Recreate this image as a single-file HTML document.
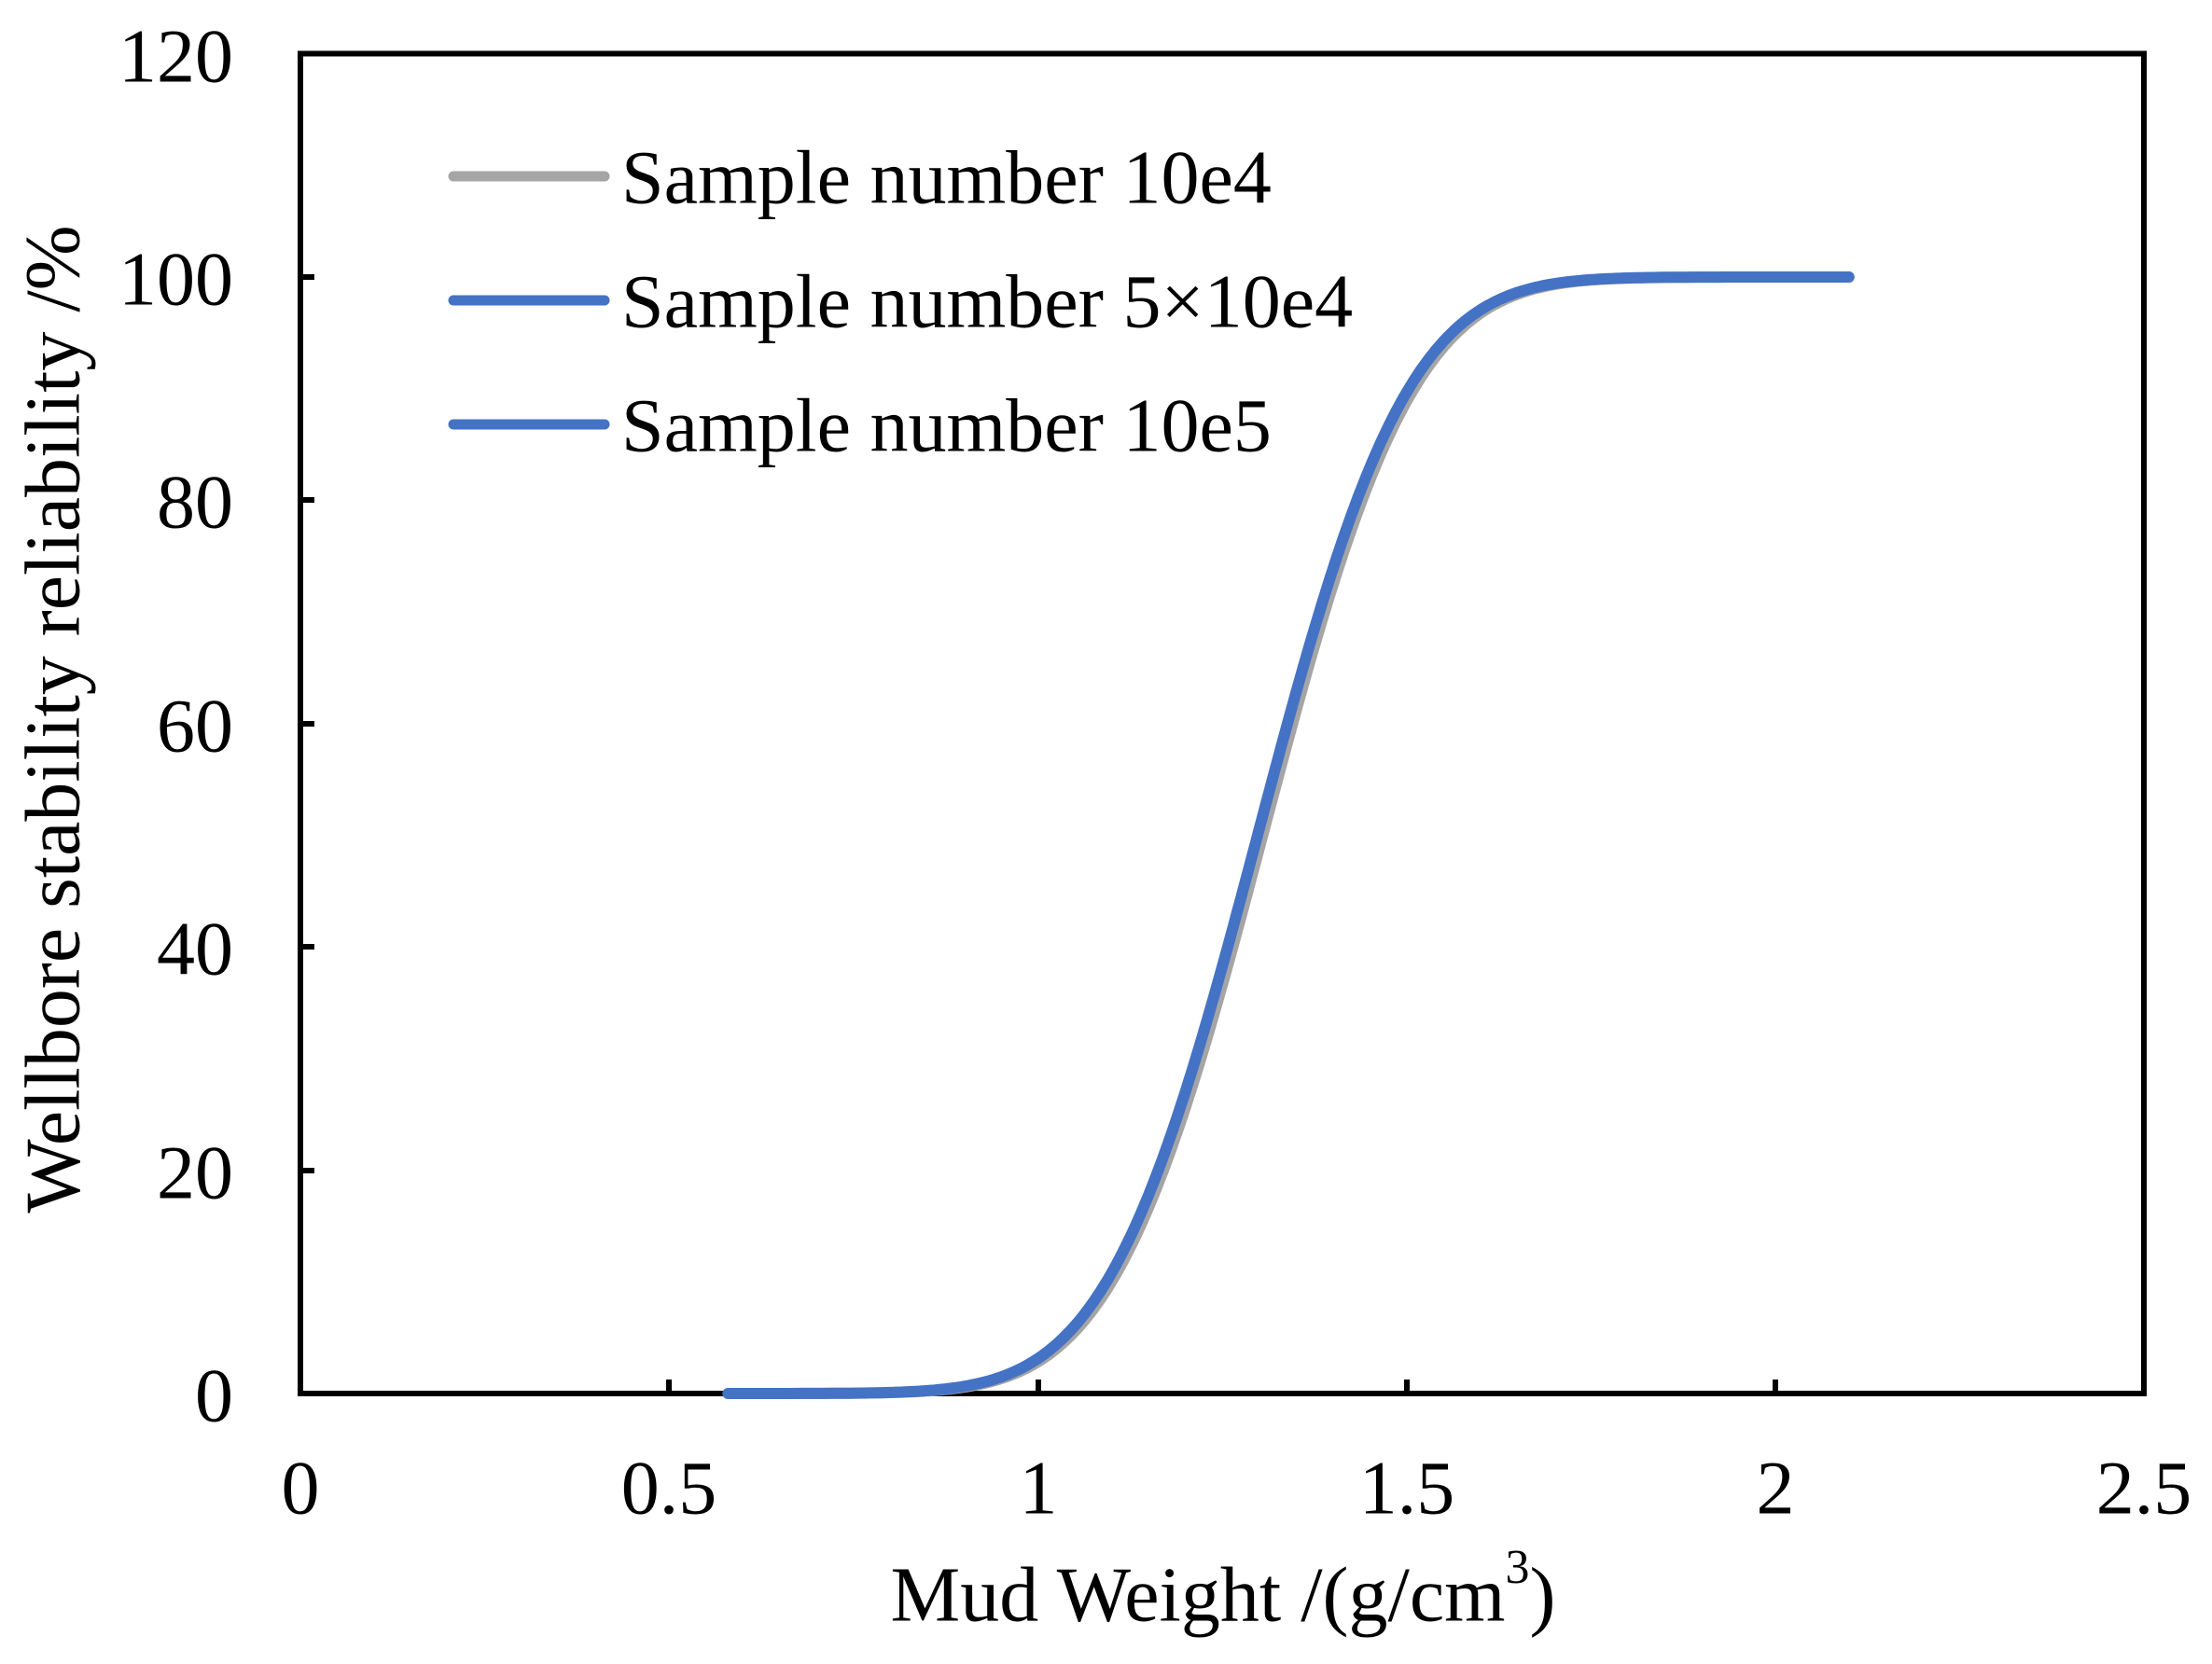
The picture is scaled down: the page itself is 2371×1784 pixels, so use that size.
<!DOCTYPE html>
<html><head><meta charset="utf-8"><style>
html,body{margin:0;padding:0;background:#fff;}
svg text{font-family:"Liberation Serif",serif;fill:#000;}
</style></head><body>
<svg id="s" width="2371" height="1779" viewBox="0 0 2371 1779" xmlns="http://www.w3.org/2000/svg">
<rect width="2371" height="1779" fill="#fff"/>
<g stroke="#000" stroke-width="6" fill="none">
<rect x="322" y="57.5" width="1976" height="1436.5"/>
<line x1="322" y1="297" x2="337" y2="297"/>
<line x1="322" y1="536" x2="337" y2="536"/>
<line x1="322" y1="776" x2="337" y2="776"/>
<line x1="322" y1="1015" x2="337" y2="1015"/>
<line x1="322" y1="1255" x2="337" y2="1255"/>
<line x1="717" y1="1494" x2="717" y2="1479"/>
<line x1="1113" y1="1494" x2="1113" y2="1479"/>
<line x1="1508" y1="1494" x2="1508" y2="1479"/>
<line x1="1903" y1="1494" x2="1903" y2="1479"/>
</g>
<g font-size="82" text-anchor="end" dominant-baseline="central">
<text x="250" y="60">120</text>
<text x="250" y="299">100</text>
<text x="250" y="538">80</text>
<text x="250" y="778">60</text>
<text x="250" y="1017">40</text>
<text x="250" y="1257">20</text>
<text x="250" y="1496">0</text>
</g>
<g font-size="82" text-anchor="middle" dominant-baseline="central">
<text x="322" y="1595">0</text>
<text x="717" y="1595">0.5</text>
<text x="1113" y="1595">1</text>
<text x="1508" y="1595">1.5</text>
<text x="1903" y="1595">2</text>
<text x="2298" y="1595">2.5</text>
</g>
<g font-size="84" text-anchor="middle" dominant-baseline="central">
<text x="1311" y="1710">Mud Weight /(g/cm<tspan font-size="52" dy="-30">3</tspan><tspan dy="30">)</tspan></text>
<text transform="translate(57,771) rotate(-90)" x="0" y="0">Wellbore stability reliability /%</text>
</g>
<g stroke-linecap="round" stroke-width="11">
<line x1="486" y1="189" x2="648" y2="189" stroke="#A5A5A5"/>
<line x1="486" y1="322" x2="648" y2="322" stroke="#4472C4"/>
<line x1="486" y1="455" x2="648" y2="455" stroke="#4472C4"/>
</g>
<g font-size="82" dominant-baseline="central">
<text x="666" y="190">Sample number 10e4</text>
<text x="666" y="323">Sample number 5×10e4</text>
<text x="666" y="456">Sample number 10e5</text>
</g>
<path id="g1" fill="none" stroke="#A5A5A5" stroke-width="12" stroke-linecap="round" stroke-linejoin="round"/>
<path id="b1" fill="none" stroke="#4472C4" stroke-width="12" stroke-linecap="round" stroke-linejoin="round"/>
</svg>
<script>
function erf(x){var s=x<0?-1:1;x=Math.abs(x);var t=1/(1+0.3275911*x);var y=1-(((((1.061405429*t-1.453152027)*t)+1.421413741)*t-0.284496736)*t+0.254829592)*t*Math.exp(-x*x);return s*y;}
function cdf(x,m,sd){return 0.5*(1+erf((x-m)/(sd*Math.SQRT2)));}
function path(m,sd){var d="";for(var x=0.58;x<=2.1001;x+=0.005){var px=322+x*790.4;var py=1494-cdf(x,m,sd)*100*11.97;d+=(d?"L":"M")+px.toFixed(1)+","+py.toFixed(1);}return d;}
document.getElementById("g1").setAttribute("d",path(1.305,0.16));
document.getElementById("b1").setAttribute("d",path(1.298,0.16));
</script>
</body></html>
